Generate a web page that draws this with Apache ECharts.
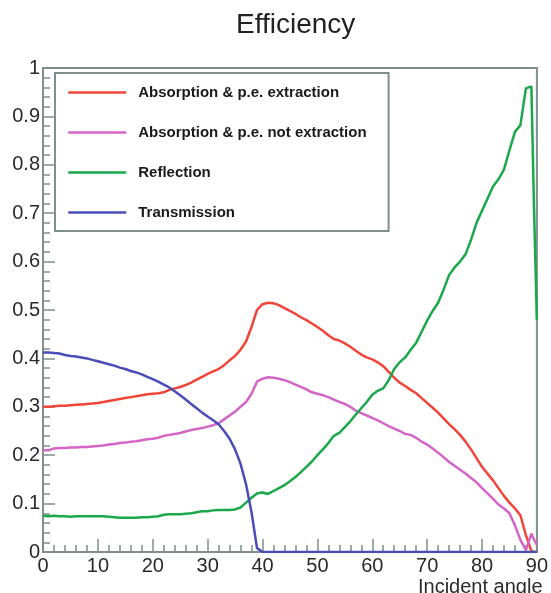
<!DOCTYPE html>
<html>
<head>
<meta charset="utf-8">
<script src="https://cdn.jsdelivr.net/npm/echarts@6/dist/echarts.min.js"></script>
<style>
  html, body { margin: 0; padding: 0; background: #fff; }
  #chart { width: 551px; height: 593px; }
</style>
</head>
<body>
<div id="chart"></div>
<script>
// incident angle (deg)
var angles = [0,1,2,3,4,5,6,7,8,9,10,11,12,13,14,15,16,17,18,19,20,21,22,23,24,25,26,27,28,29,30,
  31,32,33,34,35,36,37,38,39,40,41,42,43,44,45,46,47,48,49,50,51,52,53,54,55,56,57,58,59,60,
  61,62,63,64,65,66,67,68,69,70,71,72,73,74,75,76,77,78,79,80,81,82,83,84,85,86,87,88,89,89.5,90];

var absExtract = [0.300,0.300,0.301,0.302,0.302,0.303,0.304,0.305,0.306,0.307,0.308,0.310,0.312,0.314,0.316,0.318,0.320,0.322,0.324,0.326,0.327,
  0.328,0.330,0.335,0.338,0.341,0.345,0.350,0.356,0.362,0.368,0.373,0.378,0.386,0.396,0.405,0.418,0.435,0.465,0.500,0.512,
  0.515,0.514,0.510,0.504,0.498,0.492,0.485,0.479,0.472,0.465,0.457,0.448,0.440,0.437,0.431,0.424,0.416,0.408,0.402,0.398,
  0.392,0.384,0.372,0.360,0.350,0.343,0.335,0.328,0.318,0.308,0.298,0.288,0.276,0.264,0.254,0.242,0.228,0.212,0.194,0.176,
  0.162,0.148,0.132,0.116,0.102,0.090,0.076,0.035,0.002,0,0];

var absNotExtract = [0.210,0.210,0.214,0.215,0.215,0.216,0.216,0.217,0.217,0.218,0.219,0.220,0.222,0.223,0.225,0.226,0.228,0.229,0.231,0.233,0.234,
  0.236,0.240,0.242,0.244,0.246,0.249,0.252,0.254,0.256,0.259,0.262,0.266,0.274,0.282,0.290,0.300,0.310,0.327,0.352,0.358,
  0.361,0.360,0.358,0.355,0.351,0.346,0.341,0.336,0.330,0.327,0.324,0.320,0.315,0.310,0.306,0.300,0.292,0.287,0.282,0.277,
  0.272,0.266,0.260,0.255,0.250,0.244,0.242,0.236,0.228,0.222,0.214,0.205,0.196,0.186,0.178,0.170,0.162,0.153,0.144,0.132,
  0.121,0.110,0.098,0.090,0.080,0.055,0.025,0.004,0.038,0.025,0.015];

var reflection = [0.075,0.074,0.075,0.074,0.074,0.073,0.074,0.074,0.074,0.074,0.074,0.074,0.073,0.072,0.071,0.071,0.071,0.071,0.072,0.072,0.073,
  0.074,0.077,0.078,0.078,0.078,0.079,0.080,0.082,0.084,0.084,0.086,0.087,0.087,0.087,0.088,0.092,0.102,0.112,0.121,0.123,
  0.120,0.126,0.132,0.138,0.146,0.155,0.165,0.176,0.187,0.200,0.212,0.225,0.240,0.246,0.258,0.270,0.284,0.297,0.310,0.325,
  0.333,0.338,0.355,0.378,0.392,0.402,0.418,0.432,0.455,0.478,0.498,0.515,0.542,0.572,0.588,0.600,0.615,0.645,0.680,0.705,
  0.730,0.755,0.770,0.790,0.830,0.868,0.882,0.958,0.962,0.700,0.480];

var transmission = [0.412,0.412,0.411,0.410,0.407,0.405,0.404,0.402,0.400,0.397,0.394,0.391,0.388,0.385,0.381,0.378,0.374,0.371,0.367,0.362,0.357,
  0.352,0.346,0.340,0.332,0.324,0.315,0.306,0.297,0.288,0.280,0.272,0.264,0.250,0.234,0.212,0.182,0.140,0.082,0.008,0,
  0,0,0,0,0,0,0,0,0,0,0,0,0,0,0,0,0,0,0,0,
  0,0,0,0,0,0,0,0,0,0,0,0,0,0,0,0,0,0,0,0,
  0,0,0,0,0,0,0,0,0,0,0];

var seriesNames = ['Absorption & p.e. extraction', 'Absorption & p.e. not extraction', 'Reflection', 'Transmission'];
var seriesColors = ['#f0453a', '#d465c6', '#1aa84a', '#4a4cb8'];
var seriesValues = [absExtract, absNotExtract, reflection, transmission];

function pairs(vals) {
  var out = [];
  for (var i = 0; i < angles.length; i++) {
    out.push([angles[i], vals[i]]);
  }
  return out;
}

var font = "'Liberation Sans', Arial, sans-serif";
var axisGray = '#7f8f8f';

var series = [];
for (var i = 0; i < seriesNames.length; i++) {
  series.push({
    name: seriesNames[i],
    type: 'line',
    data: pairs(seriesValues[i]),
    symbol: 'none',
    smooth: false,
    lineStyle: { color: seriesColors[i], width: 2.5 },
    itemStyle: { color: seriesColors[i] },
    z: 3
  });
}

var myChart = echarts.init(document.getElementById('chart'));
var option = {
  animation: false,
  backgroundColor: '#fff',
  title: {
    text: 'Efficiency',
    left: 236,
    top: 11,
    padding: 0,
    textStyle: { fontFamily: font, fontSize: 28, fontWeight: 'normal', color: '#222' }
  },
  legend: {
    orient: 'vertical',
    left: 55,
    top: 73,
    padding: [12, 22, 11, 12],
    itemGap: 25,
    itemWidth: 58,
    itemHeight: 14,
    backgroundColor: '#fff',
    borderColor: axisGray,
    borderWidth: 2,
    borderRadius: 0,
    selectedMode: false,
    itemStyle: { opacity: 0 },
    lineStyle: { width: 2.5 },
    textStyle: { fontFamily: font, fontSize: 15, fontWeight: 'bold', color: '#1a1a1a', padding: [0, 0, 0, 7] },
    data: seriesNames
  },
  grid: {
    left: 43,
    right: 11,
    top: 68,
    bottom: 41,
    show: true,
    borderColor: axisGray,
    borderWidth: 2,
    backgroundColor: 'transparent'
  },
  xAxis: {
    type: 'value',
    min: 0,
    max: 90,
    interval: 10,
    axisLine: { show: true, lineStyle: { color: axisGray, width: 2 } },
    axisTick: { show: true, inside: true, length: 13, lineStyle: { color: axisGray, width: 1.5 } },
    minorTick: { show: true, splitNumber: 5, length: 7, lineStyle: { color: axisGray, width: 1.5 } },
    splitLine: { show: false },
    axisLabel: { fontFamily: font, fontSize: 20, color: '#2a2a2a', margin: 4 }
  },
  yAxis: {
    type: 'value',
    min: 0,
    max: 1,
    interval: 0.1,
    axisLine: { show: true, lineStyle: { color: axisGray, width: 2 } },
    axisTick: { show: true, inside: true, length: 12, lineStyle: { color: axisGray, width: 1.5 } },
    minorTick: { show: true, splitNumber: 5, length: 7, lineStyle: { color: axisGray, width: 1.5 } },
    splitLine: { show: false },
    axisLabel: { fontFamily: font, fontSize: 20, color: '#2a2a2a', margin: 3 }
  },
  graphic: [{
    type: 'text',
    left: 418,
    top: 577,
    style: { text: 'Incident angle', fontFamily: font, fontSize: 20, fill: '#2a2a2a' }
  }],
  series: series
};
myChart.setOption(option);
</script>
</body>
</html>
